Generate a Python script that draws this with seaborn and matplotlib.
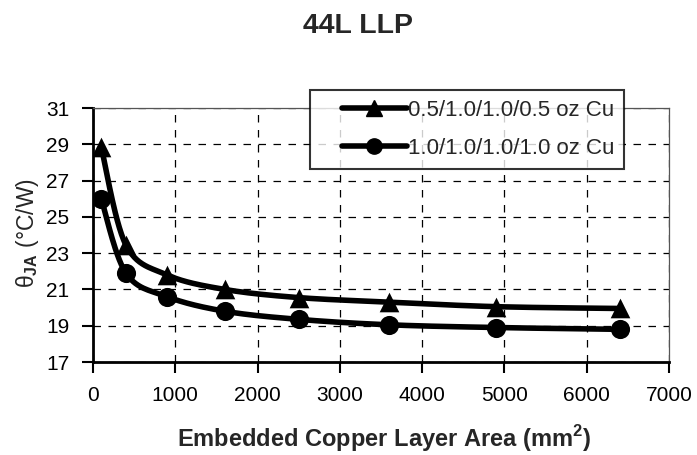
import numpy as np
import pandas as pd
import matplotlib
matplotlib.use("Agg")
import matplotlib.pyplot as plt
import seaborn as sns
from matplotlib.lines import Line2D
from matplotlib.legend_handler import HandlerLine2D

area = [100, 400, 900, 1600, 2500, 3600, 4900, 6400]
theta_half = [28.85, 23.45, 21.8, 21.0, 20.55, 20.3, 20.05, 19.95]
theta_full = [26.0, 21.9, 20.6, 19.8, 19.35, 19.05, 18.9, 18.8]
labels = ["0.5/1.0/1.0/0.5 oz Cu", "1.0/1.0/1.0/1.0 oz Cu"]
markers = ["^", "o"]
xticks = [0, 1000, 2000, 3000, 4000, 5000, 6000, 7000]
yticks = [17, 19, 21, 23, 25, 27, 29, 31]

sns.set_style("white")
plt.rcParams['font.family'] = ['Liberation Sans', 'DejaVu Sans']
plt.rcParams['mathtext.fontset'] = 'custom'
plt.rcParams['mathtext.rm'] = 'Liberation Sans'
plt.rcParams['mathtext.bf'] = 'Liberation Sans:bold'


def smooth(x, y, n=30):
    # Catmull-Rom style smoothing (like spreadsheet "smoothed line")
    x = np.asarray(x, float); y = np.asarray(y, float)
    px = np.concatenate([[x[0]], x, [x[-1]]])
    py = np.concatenate([[y[0]], y, [y[-1]]])
    xs, ys = [], []
    t = np.linspace(0, 1, n)
    for i in range(1, len(px) - 2):
        p0, p1, p2, p3 = [np.array([px[j], py[j]]) for j in (i - 1, i, i + 1, i + 2)]
        c1 = p1 + (p2 - p0) / 6
        c2 = p2 - (p3 - p1) / 6
        b = ((1 - t) ** 3)[:, None] * p1 + (3 * (1 - t) ** 2 * t)[:, None] * c1 \
            + (3 * (1 - t) * t ** 2)[:, None] * c2 + (t ** 3)[:, None] * p2
        xs.extend(b[:, 0]); ys.extend(b[:, 1])
    return np.array(xs), np.array(ys)


W, H = 697, 455
L, R, T, B = 93, 669, 108, 362
fig = plt.figure(figsize=(W / 100, H / 100), dpi=100)
ax = fig.add_axes([L / W, 1 - B / H, (R - L) / W, (B - T) / H])

handles = []
for lab, mk, vals in zip(labels, markers, [theta_half, theta_full]):
    sx, sy = smooth(area, vals)
    df_line = pd.DataFrame({"x": sx, "y": sy})
    sns.lineplot(data=df_line, x="x", y="y", ax=ax, color="black", lw=4,
                 sort=False, estimator=None, zorder=3)
    df_pts = pd.DataFrame({"x": area, "y": vals})
    sns.scatterplot(data=df_pts, x="x", y="y", ax=ax, marker=mk, color="black",
                    s=200 if mk == "^" else 190, edgecolor="black", linewidth=0, zorder=4)
    handles.append(Line2D([0], [0], color="black", lw=4, marker=mk, markersize=11, label=lab))

ax.set_xlim(0, 7000)
ax.set_ylim(17, 31)
ax.set_xticks(xticks)
ax.set_yticks(yticks)
ax.tick_params(axis="both", labelsize=15, direction="out", length=8, width=1.5,
               color="black", labelcolor="black", bottom=True, left=True, pad=9)
ax.grid(True, color="black", linestyle=(0, (6, 6)), lw=0.9)
for s in ["left", "bottom"]:
    ax.spines[s].set_color("black"); ax.spines[s].set_linewidth(2)
for s in ["top", "right"]:
    ax.spines[s].set_color("#555555"); ax.spines[s].set_linewidth(0.9)
ax.set_xlabel("")
ax.set_ylabel("")

fig.text(384 / W, 1 - 447 / H, r"Embedded Copper Layer Area (mm$^\mathbf{2}$)", ha="center",
         va="baseline", fontsize=17, fontweight="bold")
fig.text(28 / W, 1 - 233 / H, r"$\mathrm{θ}_\mathbf{JA}$ (°C/W)", ha="center", va="center",
         rotation=90, fontsize=16.5)
fig.text(358 / W, 1 - 33 / H, "44L LLP", ha="center", va="baseline",
         fontsize=20.5, fontweight="bold")

fs = 16
leg = ax.legend(handles=handles, loc="upper left",
                bbox_to_anchor=((310 - L) / (R - L), 1 + (T - 90) / (B - T)),
                borderaxespad=0, fontsize=fs, frameon=True, fancybox=False, edgecolor="black",
                handlelength=3.9, handletextpad=0.05, labelspacing=0.75, borderpad=0.45,
                handler_map={Line2D: HandlerLine2D(xpad=1.0)})
leg.get_frame().set_linewidth(1.5)
leg.set_zorder(10)

fig.savefig("out.png", dpi=100)
